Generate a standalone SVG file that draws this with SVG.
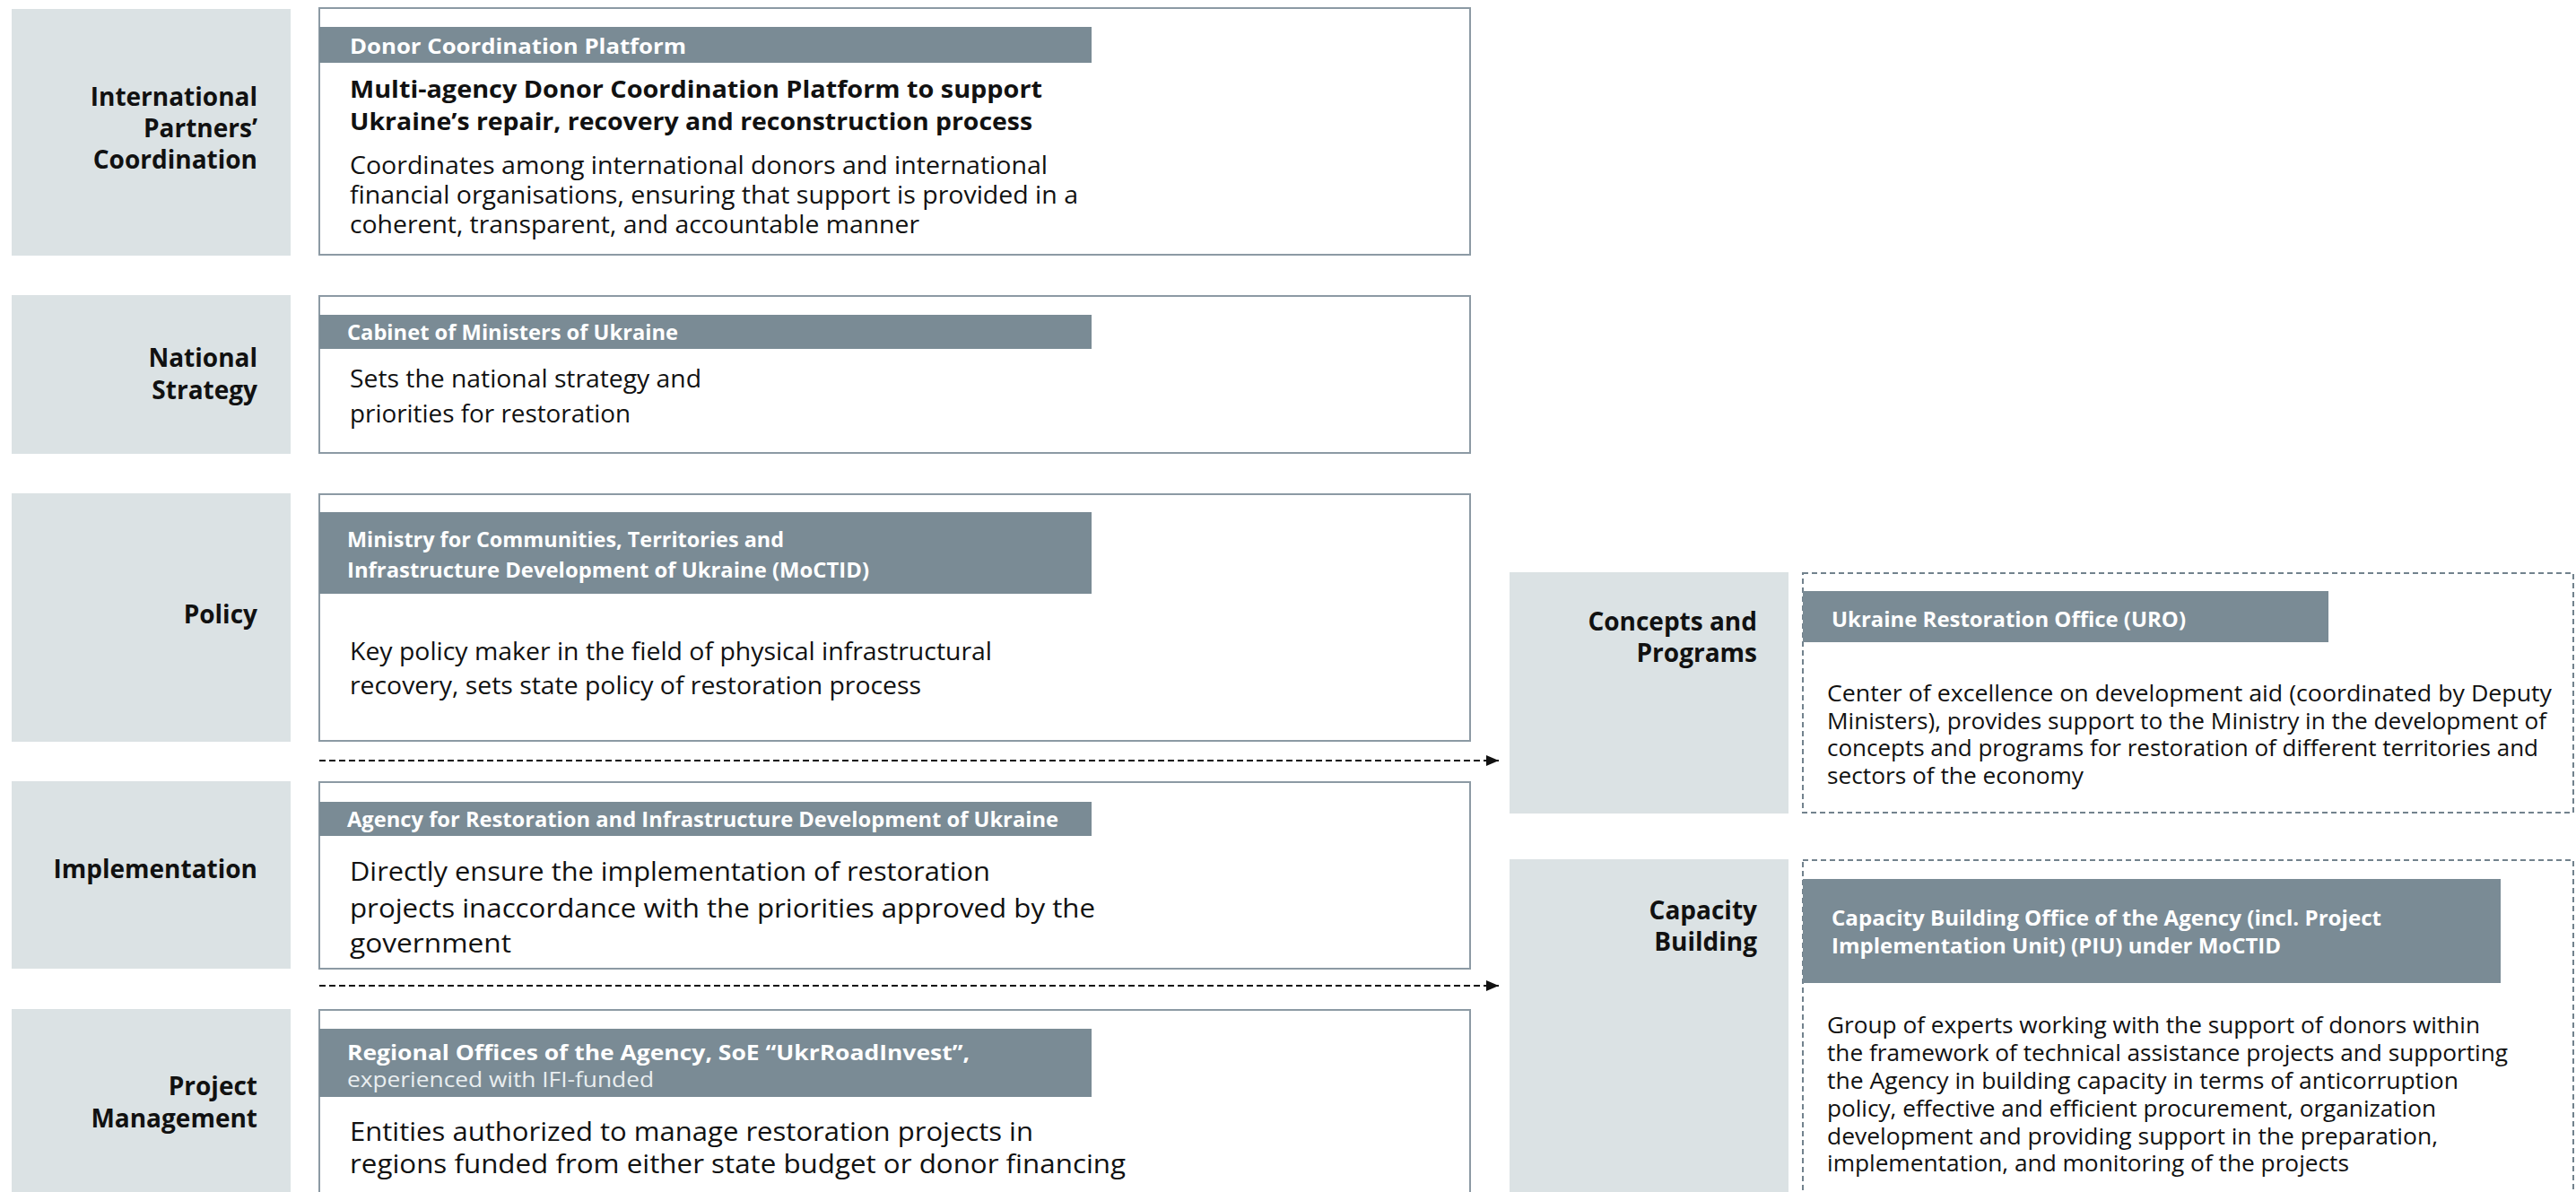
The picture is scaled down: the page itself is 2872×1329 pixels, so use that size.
<svg xmlns="http://www.w3.org/2000/svg" width="2872" height="1329" viewBox="0 0 2872 1329">
<style>
text{font-family:'Open Sans','Noto Sans','Liberation Sans',sans-serif;fill:#111}
.lab{fill:#dbe2e4}
.box{fill:#fff;stroke:#8c9aa4;stroke-width:2}
.dbox{fill:#fff;stroke:#72828d;stroke-width:2;stroke-dasharray:6 4}
.hdr{fill:#7a8b95}
.lt{font-weight:700;font-size:28px;text-anchor:end}
.ht{font-weight:700;font-size:23.5px;fill:#fff}
.hs{font-weight:400;font-size:23.5px;fill:#e9eef0}
.tt{font-weight:700;font-size:27px}
.b1{font-size:28px}
.b2{font-size:30px}
.b3{font-size:25px}
.conn{fill:none;stroke:#111;stroke-width:2;stroke-dasharray:7 4}
</style>
<defs>
<marker id="ah" viewBox="0 0 10 10" refX="10" refY="5" markerWidth="7" markerHeight="6" markerUnits="strokeWidth" orient="auto" preserveAspectRatio="none">
<path d="M0,0 L10,5 L0,10 z" fill="#111"/>
</marker>
</defs>
<rect width="2872" height="1329" fill="#fff"/>

<g id="intl-partners">
<rect class="lab" x="13" y="10" width="311" height="275"/>
<text class="lt" x="287" y="118">International</text>
<text class="lt" x="287" y="153">Partners’</text>
<text class="lt" x="287" y="188">Coordination</text>
<rect class="box" x="356" y="9" width="1283" height="275"/>
<rect class="hdr" x="356" y="30" width="861" height="40"/>
<text class="ht" x="390" y="60" textLength="375" lengthAdjust="spacingAndGlyphs">Donor Coordination Platform</text>
<text class="tt" x="390" y="109" textLength="772" lengthAdjust="spacingAndGlyphs">Multi-agency Donor Coordination Platform to support</text>
<text class="tt" x="390" y="145" textLength="761" lengthAdjust="spacingAndGlyphs">Ukraine’s repair, recovery and reconstruction process</text>
<text class="b1" x="390" y="194" textLength="778" lengthAdjust="spacingAndGlyphs">Coordinates among international donors and international</text>
<text class="b1" x="390" y="227" textLength="812" lengthAdjust="spacingAndGlyphs">financial organisations, ensuring that support is provided in a</text>
<text class="b1" x="390" y="260" textLength="635" lengthAdjust="spacingAndGlyphs">coherent, transparent, and accountable manner</text>
</g>

<g id="national-strategy">
<rect class="lab" x="13" y="329" width="311" height="177"/>
<text class="lt" x="287" y="409">National</text>
<text class="lt" x="287" y="445">Strategy</text>
<rect class="box" x="356" y="330" width="1283" height="175"/>
<rect class="hdr" x="356" y="351" width="861" height="38"/>
<text class="ht" x="387" y="379" textLength="369" lengthAdjust="spacingAndGlyphs">Cabinet of Ministers of Ukraine</text>
<text class="b1" x="390" y="432" textLength="392" lengthAdjust="spacingAndGlyphs">Sets the national strategy and</text>
<text class="b1" x="390" y="471" textLength="313" lengthAdjust="spacingAndGlyphs">priorities for restoration</text>
</g>

<g id="policy">
<rect class="lab" x="13" y="550" width="311" height="277"/>
<text class="lt" x="287" y="695">Policy</text>
<rect class="box" x="356" y="551" width="1283" height="275"/>
<rect class="hdr" x="356" y="571" width="861" height="91"/>
<text class="ht" x="387" y="610" textLength="487" lengthAdjust="spacingAndGlyphs">Ministry for Communities, Territories and</text>
<text class="ht" x="387" y="644" textLength="582" lengthAdjust="spacingAndGlyphs">Infrastructure Development of Ukraine (MoCTID)</text>
<text class="b1" x="390" y="736" textLength="716" lengthAdjust="spacingAndGlyphs">Key policy maker in the field of physical infrastructural</text>
<text class="b1" x="390" y="774" textLength="637" lengthAdjust="spacingAndGlyphs">recovery, sets state policy of restoration process</text>
</g>

<g id="implementation">
<rect class="lab" x="13" y="871" width="311" height="209"/>
<text class="lt" x="287" y="979">Implementation</text>
<rect class="box" x="356" y="872" width="1283" height="208"/>
<rect class="hdr" x="356" y="894" width="861" height="38"/>
<text class="ht" x="387" y="922" textLength="793" lengthAdjust="spacingAndGlyphs">Agency for Restoration and Infrastructure Development of Ukraine</text>
<text class="b2" x="390" y="982" textLength="714" lengthAdjust="spacingAndGlyphs">Directly ensure the implementation of restoration</text>
<text class="b2" x="390" y="1023" textLength="831" lengthAdjust="spacingAndGlyphs">projects inaccordance with the priorities approved by the</text>
<text class="b2" x="390" y="1062" textLength="180" lengthAdjust="spacingAndGlyphs">government</text>
</g>

<g id="project-management">
<rect class="lab" x="13" y="1125" width="311" height="220"/>
<text class="lt" x="287" y="1221">Project</text>
<text class="lt" x="287" y="1257">Management</text>
<rect class="box" x="356" y="1126" width="1283" height="220"/>
<rect class="hdr" x="356" y="1147" width="861" height="76"/>
<text class="ht" x="387" y="1182" textLength="694" lengthAdjust="spacingAndGlyphs">Regional Offices of the Agency, SoE “UkrRoadInvest”,</text>
<text class="hs" x="387" y="1212" textLength="342" lengthAdjust="spacingAndGlyphs">experienced with IFI-funded</text>
<text class="b2" x="390" y="1272" textLength="762" lengthAdjust="spacingAndGlyphs">Entities authorized to manage restoration projects in</text>
<text class="b2" x="390" y="1308" textLength="865" lengthAdjust="spacingAndGlyphs">regions funded from either state budget or donor financing</text>
</g>

<g id="concepts-programs">
<rect class="lab" x="1683" y="638" width="311" height="269"/>
<text class="lt" x="1959" y="703">Concepts and</text>
<text class="lt" x="1959" y="738">Programs</text>
<rect class="dbox" x="2010" y="639" width="859" height="267"/>
<rect class="hdr" x="2010" y="659" width="586" height="57"/>
<text class="ht" x="2042" y="699" textLength="395" lengthAdjust="spacingAndGlyphs">Ukraine Restoration Office (URO)</text>
<text class="b3" x="2037" y="782" textLength="808" lengthAdjust="spacingAndGlyphs">Center of excellence on development aid (coordinated by Deputy</text>
<text class="b3" x="2037" y="812.5" textLength="802" lengthAdjust="spacingAndGlyphs">Ministers), provides support to the Ministry in the development of</text>
<text class="b3" x="2037" y="843" textLength="793" lengthAdjust="spacingAndGlyphs">concepts and programs for restoration of different territories and</text>
<text class="b3" x="2037" y="873.5" textLength="286" lengthAdjust="spacingAndGlyphs">sectors of the economy</text>
</g>

<g id="capacity-building">
<rect class="lab" x="1683" y="958" width="311" height="390"/>
<text class="lt" x="1959" y="1025">Capacity</text>
<text class="lt" x="1959" y="1060">Building</text>
<rect class="dbox" x="2010" y="959" width="859" height="390"/>
<rect class="hdr" x="2010" y="980" width="778" height="116"/>
<text class="ht" x="2042" y="1032" textLength="613" lengthAdjust="spacingAndGlyphs">Capacity Building Office of the Agency (incl. Project</text>
<text class="ht" x="2042" y="1063" textLength="501" lengthAdjust="spacingAndGlyphs">Implementation Unit) (PIU) under MoCTID</text>
<text class="b3" x="2037" y="1152" textLength="728" lengthAdjust="spacingAndGlyphs">Group of experts working with the support of donors within</text>
<text class="b3" x="2037" y="1183" textLength="759" lengthAdjust="spacingAndGlyphs">the framework of technical assistance projects and supporting</text>
<text class="b3" x="2037" y="1214" textLength="704" lengthAdjust="spacingAndGlyphs">the Agency in building capacity in terms of anticorruption</text>
<text class="b3" x="2037" y="1245" textLength="679" lengthAdjust="spacingAndGlyphs">policy, effective and efficient procurement, organization</text>
<text class="b3" x="2037" y="1276" textLength="681" lengthAdjust="spacingAndGlyphs">development and providing support in the preparation,</text>
<text class="b3" x="2037" y="1306" textLength="582" lengthAdjust="spacingAndGlyphs">implementation, and monitoring of the projects</text>
</g>

<g id="connectors">
<line class="conn" x1="356" y1="848" x2="1671" y2="848" marker-end="url(#ah)"/>
<line class="conn" x1="356" y1="1099" x2="1671" y2="1099" marker-end="url(#ah)"/>
</g>
</svg>
